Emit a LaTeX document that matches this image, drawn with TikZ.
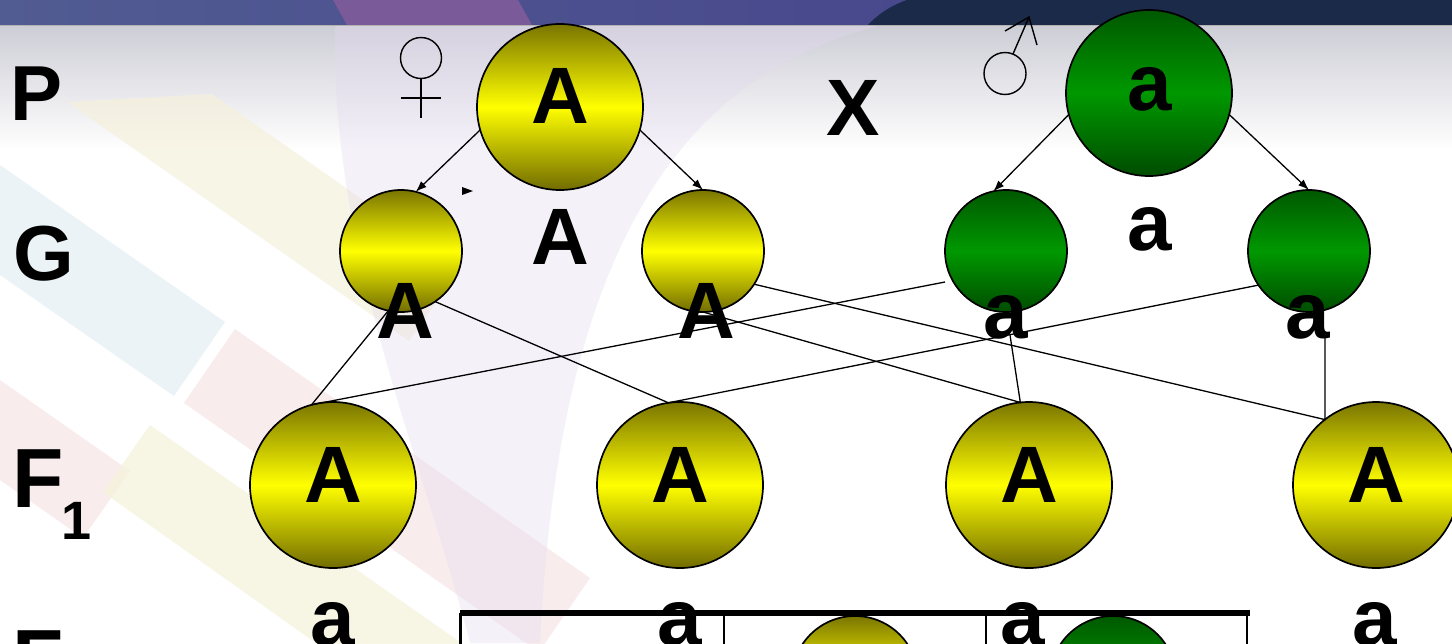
\documentclass[tikz,border=0pt]{standalone}
\usepackage{fontspec}
\setmainfont{Liberation Sans}
\usetikzlibrary{arrows.meta}

\definecolor{yTop}{HTML}{7A7500}
\definecolor{yMid}{HTML}{FFFF00}
\definecolor{yBot}{HTML}{716C00}
\definecolor{gTop}{HTML}{005800}
\definecolor{gMid}{HTML}{009800}
\definecolor{gBot}{HTML}{004C00}
\definecolor{bandLeft}{HTML}{515C92}
\definecolor{bandRight}{HTML}{433C8A}
\definecolor{bandPurple}{HTML}{7A5A98}
\definecolor{bandNavy}{HTML}{1B2A48}
\definecolor{haze}{HTML}{CDCDD6}
\definecolor{lavender}{HTML}{E4D9F0}
\definecolor{stripeBeige}{HTML}{F5F1DC}
\definecolor{stripeBlue}{HTML}{E4EEF5}
\definecolor{stripePink}{HTML}{F7E4E6}
\definecolor{stripeYellow}{HTML}{F5F3DA}

\begin{document}
\begin{tikzpicture}[x=0.5pt,y=-0.5pt,
  every node/.style={inner sep=0pt, outer sep=0pt},
  gene/.style={font=\bfseries\fontsize{40}{40}\selectfont, anchor=base},
  rowlabel/.style={font=\bfseries\fontsize{39}{39}\selectfont, anchor=base},
  ball/.style={circle, draw=black, line width=0.85pt},
  yball/.style={ball, top color=yTop, bottom color=yBot, middle color=yMid},
  gball/.style={ball, top color=gTop, bottom color=gBot, middle color=gMid},
  parent/.style={minimum size=83pt},
  gamete/.style={minimum size=61pt},
  link/.style={line width=0.65pt},
  split/.style={link, -{Latex[length=5.5pt,width=4pt]}},
  sexsign/.style={line width=0.7pt},
  stripe/.style={fill opacity=0.7},
]
\useasboundingbox (0,0) rectangle (1452,643);
\clip (0,0) rectangle (1452,643);

% ---- backdrop ----
\fill[white] (0,0) rectangle (1452,643);
\fill[top color=haze, bottom color=white] (0,25) rectangle (1452,150);
\fill[stripeBeige, stripe] (212,94) -- (460,268) -- (409,341) -- (67,102) -- cycle;
\fill[stripeBlue, stripe] (0,165) -- (225,322) -- (174,396) -- (0,275) -- cycle;
\fill[stripePink, stripe] (235,329) -- (590,578) -- (539,652) -- (184,403) -- cycle;
\fill[stripePink, stripe] (0,380) -- (130,471) -- (83,538) -- (0,480) -- cycle;
\fill[stripeYellow, stripe] (150,425) -- (700,810) -- (650,880) -- (103,492) -- cycle;
\fill[lavender, fill opacity=0.35] (335,25) -- (882,25)
  .. controls (700,70) and (560,220) .. (540,643) -- (470,643)
  .. controls (420,450) and (330,250) .. cycle;

% ---- title band ----
\fill[left color=bandLeft, right color=bandRight] (0,0) rectangle (1452,25);
\fill[bandPurple] (333,0) -- (518,0) -- (532,25) -- (347,25) -- cycle;
\fill[bandNavy] (907,0) -- (1452,0) -- (1452,25) -- (868,25)
  .. controls (880,12) and (895,4) .. cycle;
\draw[gray!60, line width=0.5pt] (0,25.5) -- (1452,25.5);

% ---- row labels ----
\node[rowlabel] (rowP) at (37,120) {P};
\node[rowlabel] (rowG) at (44,280) {G};
\node[rowlabel, font=\bfseries\fontsize{42}{42}\selectfont] (rowF) at (38,507) {F};
\node[anchor=base, font=\bfseries\fontsize{27}{27}\selectfont] (rowFsub) at (77,539) {1};
\node[rowlabel, font=\bfseries\fontsize{42}{42}\selectfont] (rowFtwo) at (38,688) {F};

% ---- parents ----
\node[yball, parent] (pA) at (560,107) {};
\node[gball, parent] (pa) at (1149,93) {};
\node[gene] (tpA) at (560,123) {A};
\node[gene] (tpa) at (1150,110) {a};
\node[gene] (cross) at (853,135) {X};

% female sign
\draw[sexsign] (421,58) circle[radius=20.5];
\draw[sexsign] (421,78.5) -- (421,118);
\draw[sexsign] (401,98) -- (441,98);
% male sign
\draw[sexsign] (1005,73.5) circle[radius=21];
\draw[sexsign] (1013,54) -- (1029,17);
\draw[sexsign] (1005,31) -- (1029,17) -- (1037,45);

% stray arrow mark
\fill (462,187) -- (473,191) -- (462,195) -- cycle;

% ---- gametes ----
\node[yball, gamete] (gA1) at (401,251) {};
\node[yball, gamete] (gA2) at (703,251) {};
\node[gball, gamete] (ga1) at (1006,251) {};
\node[gball, gamete] (ga2) at (1309,251) {};
\node[gene] (tgA) at (560,264) {A};
\node[gene] (tga) at (1150,250) {a};
\node[gene] (tA1) at (405,338) {A};
\node[gene] (tA2) at (706,338) {A};
\node[gene] (ta1) at (1006,338) {a};
\node[gene] (ta2) at (1308,338) {a};

\draw[split] (pA.196) -- (gA1.76);
\draw[split] (pA.-16) -- (gA2.north);
\draw[split] (pa.195) -- (ga1.102);
\draw[split] (pa.-15) -- (ga2.north);

% ---- F1 ----
\node[yball, parent] (f1) at (333,485) {};
\node[yball, parent] (f2) at (680,485) {};
\node[yball, parent] (f3) at (1029,485) {};
\node[yball, parent] (f4) at (1376,485) {};
\node[gene] (tf1) at (333,502) {A};
\node[gene] (tf2) at (680,502) {A};
\node[gene] (tf3) at (1029,502) {A};
\node[gene] (tf4) at (1376,502) {A};

\coordinate (c3) at (1010,335);
\coordinate (c4) at (1325,336);
\draw[link] (gA1.258) -- (f1.105);
\draw[link] ([shift={(-61,31)}]ga1.center) -- (f1.105);
\draw[link] (gA1.304) -- (f2.98);
\draw[link] (ga2.214) -- (f2.98);
\draw[link] (gA2.south) -- (f3.96) -- (c3);
\draw[link] (gA2.327) -- (f4.128) -- (f4.128 |- c4);

% ---- bottom row ----
\node[gene] (b1) at (333,645) {a};
\node[gene] (b2) at (680,645) {a};
\node[gene] (b3) at (1023,645) {a};
\node[gene] (b4) at (1375,645) {a};
\node[yball, minimum size=63pt] (bY) at (855,679) {};
\node[gball, minimum size=63pt] (bG) at (1113,679) {};
\coordinate (gridNW) at (460,613);
\coordinate (gridNE) at (1250,613);
\draw[line width=1.5pt] (gridNW) -- ++(0,60);
\draw[line width=1pt] (724,613) -- (724,660);
\draw[line width=1pt] (986,613) -- (986,660);
\draw[line width=1pt] (1247,613) -- (1247,660);
\draw[line width=3pt] (gridNW) -- (gridNE);
\end{tikzpicture}
\end{document}
